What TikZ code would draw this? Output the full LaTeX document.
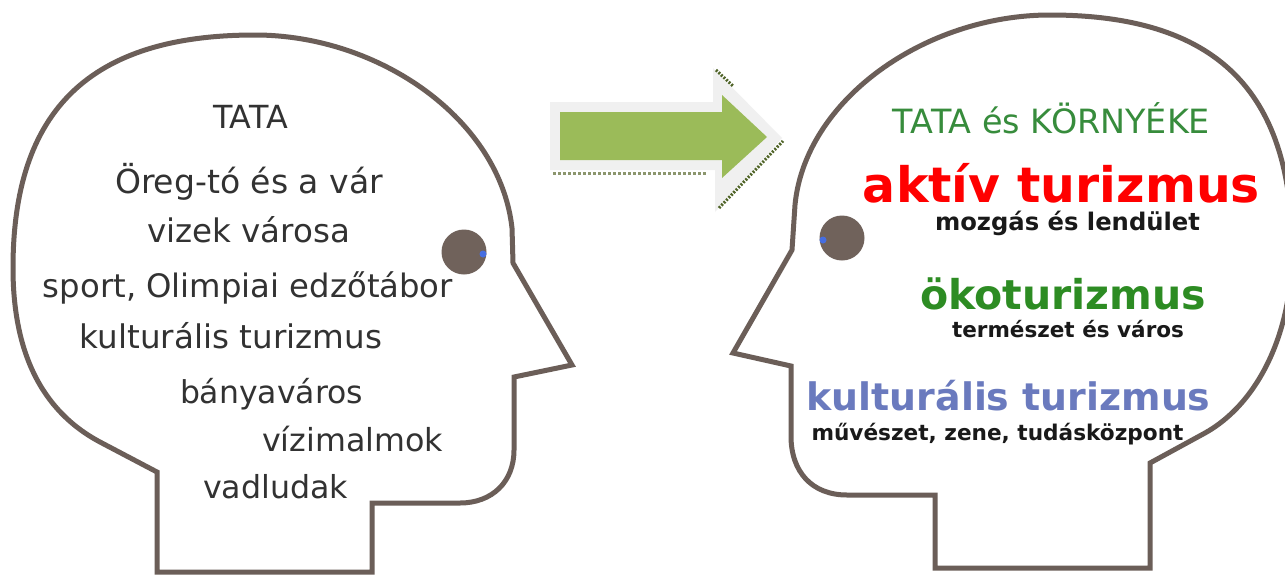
\documentclass[tikz,border=0pt]{standalone}
\usepackage{fontspec}
\setmainfont{DejaVu Sans}
\usepackage{graphicx}
\definecolor{headc}{RGB}{107,94,88}
\definecolor{eyec}{RGB}{112,98,91}
\definecolor{pupc}{RGB}{70,110,225}
\definecolor{ltext}{RGB}{50,50,50}
\definecolor{gtitle}{RGB}{55,140,60}
\definecolor{redt}{RGB}{255,0,0}
\definecolor{greent}{RGB}{45,140,35}
\definecolor{bluet}{RGB}{106,122,190}
\definecolor{subt}{RGB}{25,25,25}
\definecolor{arrowg}{RGB}{155,187,89}
\definecolor{arrowsh}{RGB}{240,240,240}
\definecolor{dotc}{RGB}{140,150,110}
\definecolor{dotd}{RGB}{80,100,40}
\newcommand{\tw}[2]{\resizebox{#1pt}{!}{#2}}
\begin{document}
\begin{tikzpicture}[x=1pt,y=-1pt,
  headline/.style={draw=headc, line width=5pt, line join=miter, fill=white},
  eyenode/.style={circle, fill=eyec, inner sep=0pt, minimum size=45pt},
  pupil/.style={circle, fill=pupc, inner sep=0pt, minimum size=7pt},
  lt/.style={inner sep=0pt, anchor=base, text=ltext, font=\fontsize{32}{36}\selectfont},
  rt/.style={inner sep=0pt, anchor=base, font=\bfseries\fontsize{32}{36}\selectfont},
  dotline/.style={draw=dotc, line width=3pt, dash pattern=on 3pt off 2pt},
  dotline2/.style={draw=dotd, line width=3pt, dash pattern=on 2pt off 1.5pt}]
\useasboundingbox (0,0) rectangle (1285,576);
\fill[white] (0,0) rectangle (1285,576);

% left head
\draw[headline] (157,572) -- (157,472) -- (100,442)
  .. controls (40,410) and (13,350) .. (13,268)
  .. controls (13,110) and (90,35) .. (255,35)
  .. controls (380,35) and (500,120) .. (512,228)
  -- (513,263) -- (572,365) -- (514,377) -- (514,450)
  .. controls (514,482) and (492,503) .. (460,503)
  -- (372,503) -- (372,572) -- cycle;

% right head
\draw[headline] (1150,568) -- (1150,463) -- (1205,433)
  .. controls (1257,404) and (1292,335) .. (1292,250)
  .. controls (1292,90) and (1215,15) .. (1050,15)
  .. controls (925,15) and (805,100) .. (795,205)
  -- (792,250) -- (733,353) -- (791,366) -- (791,436)
  .. controls (791,472) and (812,495) .. (847,495)
  -- (935,495) -- (935,568) -- cycle;

% eyes
\node[eyenode] (eyeL) at (464,252) {};
\node[pupil] (pupL) at (483,254) {};
\node[eyenode] (eyeR) at (842,238) {};
\node[pupil] (pupR) at (823,240) {};

% arrow
\fill[arrowsh] (550,102) -- (713,102) -- (713,68) -- (782,138) -- (715,212)
  -- (715,170) -- (550,170) -- cycle;
\fill[arrowg] (560,112) -- (722,112) -- (722,95) -- (767,137) -- (722,178)
  -- (722,160) -- (560,160) -- cycle;
\draw[dotline] (553,173) -- (707,173);
\draw[dotline2] (719,208) -- (783,141);
\draw[dotline2] (716,70) -- (733,86);

% left texts
\node[lt] (l1) at (250.5,128) {\tw{75}{TATA}};
\node[lt] (l2) at (249,193) {\tw{268}{Öreg-tó és a vár}};
\node[lt] (l3) at (248.5,242) {\tw{203}{vizek városa}};
\node[lt] (l4) at (248,297) {\tw{410}{sport, Olimpiai edzőtábor}};
\node[lt] (l5) at (231,348) {\tw{302}{kulturális turizmus}};
\node[lt] (l6) at (271.5,403) {\tw{183}{bányaváros}};
\node[lt] (l7) at (352.5,451) {\tw{181}{vízimalmok}};
\node[lt] (l8) at (275.5,498) {\tw{145}{vadludak}};

% right texts
\node[inner sep=0pt, anchor=base, text=gtitle] (r1) at (1051.5,133)
  {\tw{317}{TATA és KÖRNYÉKE}};
\node[rt, text=redt] (r2) at (1061.5,202) {\tw{397}{aktív turizmus}};
\node[rt, text=subt] (r3) at (1067.5,230) {\tw{265}{mozgás és lendület}};
\node[rt, text=greent] (r4) at (1063,309) {\tw{286}{ökoturizmus}};
\node[rt, text=subt] (r5) at (1068,337) {\tw{232}{természet és város}};
\node[rt, text=bluet] (r6) at (1008.5,410) {\tw{404}{kulturális turizmus}};
\node[rt, text=subt] (r7) at (997.5,440) {\tw{372}{művészet, zene, tudásközpont}};
\end{tikzpicture}
\end{document}
